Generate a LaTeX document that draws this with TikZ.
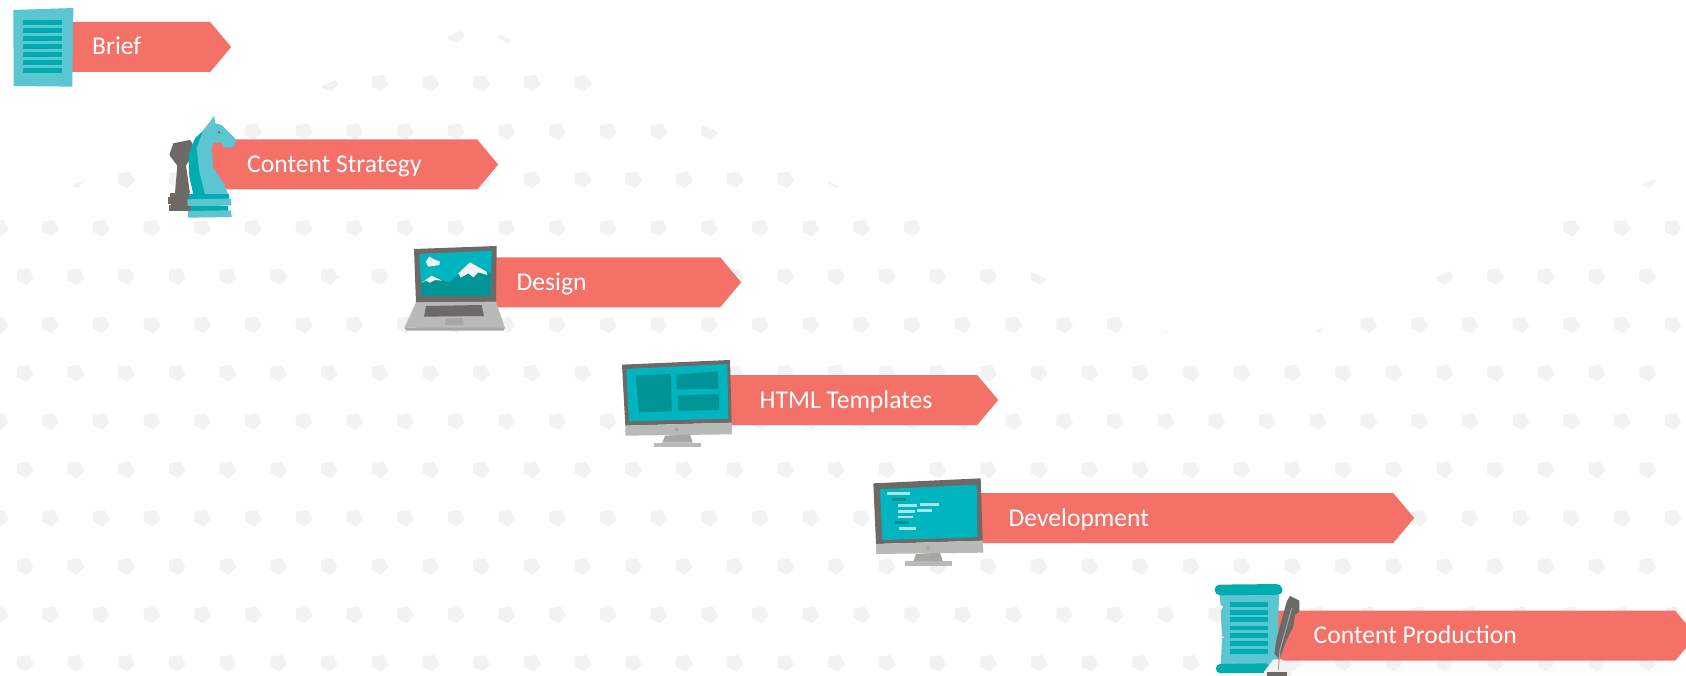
\documentclass[tikz,border=0pt]{standalone}
\usepackage{fontspec}
\setmainfont{Carlito}
\usetikzlibrary{shapes.symbols, positioning}
\definecolor{barred}{HTML}{F47167}
\definecolor{tealdark}{HTML}{00ACB0}
\definecolor{teallight}{HTML}{5BC5D2}
\definecolor{tealdeep}{HTML}{009496}
\definecolor{screenteal}{HTML}{00B5BF}
\definecolor{codelight}{HTML}{A8E3E6}
\definecolor{ironGrey}{HTML}{6C6966}
\definecolor{standGrey}{HTML}{B9B9B7}
\definecolor{padGrey}{HTML}{A6A6A4}
\definecolor{dotGrey}{HTML}{F2F2F2}
\tikzstyle{barbox} = [signal, signal to=east, signal pointer angle=100, anchor=west, minimum height=50pt, inner sep=0pt, draw=none, fill=barred]
\tikzstyle{barlabel} = [text=white, font=\fontsize{25.6}{30}\selectfont, inner sep=0pt, anchor=west, text height=19pt, text depth=3pt]
\newcommand{\patterndot}[2]{\fill[dotGrey] (#1-8,#2-6.7) -- (#1+3.3,#2-8.3) -- (#1+8.3,#2+1) -- (#1+1,#2+8.3) -- (#1-8.7,#2+3.3) -- cycle;}

\begin{document}
\begin{tikzpicture}[x=1pt,y=-1pt]
\useasboundingbox (0,0) rectangle (1686,676);

% dotted background
\begin{scope}
  \clip (0,213.6) -- (476.6,24.4) -- (1240,365) -- (1686,165) -- (1686,676) -- (0,676) -- cycle;
  \foreach \row in {0,...,13} {
    \pgfmathsetmacro{\rowy}{35+48.33*\row}
    \pgfmathsetmacro{\rowx}{mod(\row,2)*25.35}
    \foreach \col in {0,...,33} {
      \pgfmathsetmacro{\colx}{\rowx+50.7*\col}
      \patterndot{\colx}{\rowy}
    }
  }
\end{scope}

% bars
\node (brief) [barbox, minimum width=159pt] at (72,47) {};
\node (strategy) [barbox, minimum width=290pt] at (208,164.5) {};
\node (design) [barbox, minimum width=250pt] at (491,282.3) {};
\node (templates) [barbox, minimum width=270pt] at (728,400) {};
\node (development) [barbox, minimum width=436pt] at (978,518) {};
\node (production) [barbox, minimum width=436pt] at (1260,635.7) {};

\node (brieftext) [barlabel, right=20pt of brief.west] {Brief};
\node (strategytext) [barlabel, right=39pt of strategy.west] {Content Strategy};
\node (designtext) [barlabel, right=25.5pt of design.west] {Design};
\node (templatestext) [barlabel, right=31.5pt of templates.west] {HTML Templates};
\node (developmenttext) [barlabel, right=30.5pt of development.west] {Development};
\node (productiontext) [barlabel, right=53.5pt of production.west] {Content Production};

% brief sheet
\begin{scope}[shift={(0,0)},scale=1/3]
  \fill[teallight] (40,30) -- (220,24) -- (217,260) -- (41,258) -- cycle;
  \foreach \ya/\yb in {60/75,84/99,108/123,133/147,156/171,180/195,204/219}
    \fill[tealdark] (69,\ya) rectangle (186,\yb);
\end{scope}

% chess pieces
\begin{scope}[shift={(150,105)},scale=1/3]
  \fill[ironGrey] (58,150) -- (70,115) -- (120,105) -- (130,120) -- (118,165) -- (108,182) -- (120,265) -- (75,265) -- (82,182) -- cycle;
  \fill[ironGrey] (60,265) rectangle (118,280);
  \fill[ironGrey] (55,277) rectangle (122,296);
  \fill[ironGrey] (62,294) rectangle (118,302);
  \fill[ironGrey] (57,300) rectangle (122,318);
  \fill[tealdark] (115,150) -- (135,100) -- (165,72) -- (175,150) -- (170,268) -- (130,268) -- (118,215) -- cycle;
  \fill[teallight] (180,50) -- (192,32) -- (196,55) -- (215,60) -- (260,105) -- (250,127) -- (222,128) -- (215,113) -- (190,113) -- (185,130) -- (190,190) -- (222,235) -- (235,270) -- (165,268) -- (148,200) -- (140,130) -- (160,75) -- cycle;
  \fill[ironGrey] (207,82) circle (4);
  \fill[tealdark] (118,268) rectangle (238,285);
  \fill[teallight] (112,283) -- (243,281) -- (243,302) -- (113,303) -- cycle;
  \fill[tealdark] (122,303) rectangle (235,318);
  \fill[teallight] (113,318) -- (243,316) -- (245,336) -- (114,338) -- cycle;
\end{scope}

% laptop and first monitor
\begin{scope}[shift={(390,230)},scale=1/3]
  \fill[ironGrey] (72,57) -- (320,48) -- (318,216) -- (78,218) -- cycle;
  \fill[screenteal] (88,72) -- (306,62) -- (300,198) -- (95,198) -- cycle;
  \fill[tealdeep] (92,160) -- (125,137) -- (178,158) -- (240,97) -- (303,130) -- (300,198) -- (95,198) -- cycle;
  \fill[dotGrey] (205,130) -- (240,97) -- (290,125) -- (292,135) -- (265,127) -- (250,142) -- (235,130) -- (212,143) -- cycle;
  \fill[dotGrey] (95,158) -- (125,137) -- (157,152) -- (135,150) -- (120,158) -- (108,152) -- cycle;
  \fill[dotGrey] (107,95) -- (118,80) -- (132,88) -- (150,95) -- (148,105) -- (115,110) -- cycle;
  \fill[standGrey] (78,217) -- (318,215) -- (345,295) -- (43,293) -- cycle;
  \fill[padGrey] (43,293) -- (345,293) -- (340,302) -- (50,302) -- cycle;
  \fill[ironGrey] (108,228) -- (275,225) -- (282,258) -- (102,260) -- cycle;
  \fill[padGrey] (168,266) -- (218,264) -- (222,285) -- (165,285) -- cycle;

  \fill[ironGrey] (696,404) -- (1020,390) -- (1025,578) -- (706,587) -- cycle;
  \fill[screenteal] (709,417) -- (1012,402) -- (1015,566) -- (717,574) -- cycle;
  \fill[tealdeep] (737,436) -- (843,432) -- (845,544) -- (747,547) -- cycle;
  \fill[tealdeep] (859,434) -- (983,424) -- (985,477) -- (860,478) -- cycle;
  \fill[tealdeep] (863,497) -- (987,492) -- (988,540) -- (865,543) -- cycle;
  \fill[standGrey] (706,587) -- (1025,578) -- (1026,613) -- (706,617) -- cycle;
  \fill[padGrey] (860,599) circle (6);
  \fill[padGrey] (825,617) -- (900,613) -- (908,638) -- (817,638) -- cycle;
  \fill[standGrey] (793,638) rectangle (932,652);
\end{scope}

% second monitor
\begin{scope}[shift={(860,460)},scale=1/3]
  \fill[ironGrey] (40,70) -- (362,55) -- (368,242) -- (48,252) -- cycle;
  \fill[screenteal] (60,88) -- (350,74) -- (352,232) -- (67,240) -- cycle;
  \foreach \xa/\ya/\xb/\yb in {80/96/150/104,113/133/172/141,180/130/238/137,114/150/165/158,172/148/216/155,115/167/158/175,116/201/168/209}
    \fill[codelight] (\xa,\ya) rectangle (\xb,\yb);
  \fill[tealdeep] (97,115) rectangle (138,123);
  \fill[tealdeep] (104,184) rectangle (147,192);
  \fill[standGrey] (48,252) -- (368,242) -- (370,278) -- (48,282) -- cycle;
  \fill[padGrey] (204,265) circle (6);
  \fill[padGrey] (168,282) -- (240,278) -- (248,303) -- (160,303) -- cycle;
  \fill[standGrey] (136,303) rectangle (275,317);
\end{scope}

% scroll and quill
\begin{scope}[shift={(1180,570)},scale=1/3]
  \fill[teallight] (118,70) -- (297,70) -- (292,290) -- (122,290) -- (126,205) -- (133,203) -- (126,198) -- (122,125) -- (130,110) -- (122,106) -- cycle;
  \fill[tealdark, rounded corners=5pt] (103,44) -- (305,42) -- (309,74) -- (105,76) -- cycle;
  \fill[tealdark, rounded corners=4.5pt] (107,282) -- (270,280) -- (270,308) -- (108,310) -- cycle;
  \foreach \ya/\yb in {96/111,120/135,141/156,167/180,189/204,213/228,237/252}
    \fill[tealdark] (150,\ya) rectangle (264,\yb);
  \fill[dotGrey] (252,305) -- (280,268) -- (305,268) -- (335,305) -- (335,318) -- (252,318) -- cycle;
  \fill[ironGrey] (262,305) rectangle (320,318);
  \fill[ironGrey] (283,250) -- (290,205) -- (305,150) -- (320,95) -- (330,78) -- (358,92) -- (358,125) -- (345,135) -- (340,170) -- (330,190) -- (318,215) -- (305,250) -- (298,268) -- cycle;
  \draw[padGrey, line width=1pt] (295,300) -- (300,240) -- (335,115);
\end{scope}
\end{tikzpicture}
\end{document}
